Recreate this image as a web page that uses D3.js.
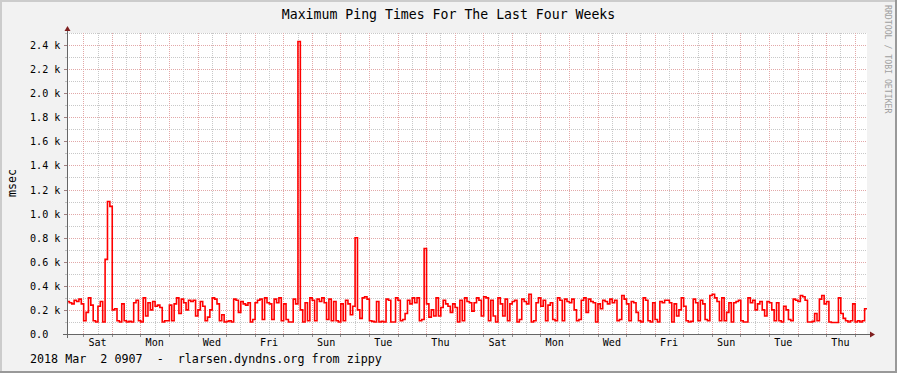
<!DOCTYPE html>
<html>
<head>
<meta charset="utf-8">
<title>Maximum Ping Times</title>
<script src="https://cdnjs.cloudflare.com/ajax/libs/d3/7.8.5/d3.min.js"></script>
<style>
    body { margin: 0; background: #f2f2f2; }
    svg { display: block; }
    text { font-family: "DejaVu Sans Mono", monospace; fill: #000; }
</style>
</head>
<body>
<svg width="897" height="373"></svg>
<script>
// max ping (msec), one value per 2 hours, 28 days
const pingMax = [
    270,260,250,280,270,290,250,110,180,300,240,110,100,230,270,100,620,1100,1060,200,
    210,110,100,250,110,100,105,100,260,280,110,100,300,150,260,200,270,230,240,220,
    100,110,
    110,240,110,250,300,170,290,260,200,280,270,280,150,200,270,230,110,140,200,300,
    290,250,110,160,100,105,110,100,290,280,180,270,250,240,260,100,120,260,280,290,
    120,300,
    260,250,120,290,260,300,110,250,120,100,100,290,250,2430,200,100,260,110,300,280,
    110,290,270,300,260,120,290,110,270,110,100,250,110,280,250,160,230,800,200,130,
    300,310,
    290,110,105,100,270,100,105,100,290,280,100,100,300,280,110,120,170,280,250,300,
    260,300,110,120,710,250,140,200,150,300,150,220,280,250,230,180,250,220,100,280,
    110,300,
    270,260,190,260,300,280,150,310,300,110,280,150,100,300,250,150,290,110,250,270,
    280,100,120,290,270,250,330,100,110,260,300,230,280,110,240,260,120,110,300,280,
    110,290,
    270,260,290,200,110,120,280,300,180,290,270,260,100,250,210,280,270,250,290,260,
    280,110,120,320,290,250,110,270,260,180,110,100,300,280,110,100,260,120,100,270,
    260,280,
    280,260,100,250,150,200,300,230,110,100,105,290,260,110,280,250,120,110,320,330,
    300,270,110,300,110,180,260,100,260,270,280,110,100,100,300,260,280,200,250,270,
    200,150,
    270,260,200,110,260,110,100,230,200,120,110,290,280,270,320,310,280,100,100,105,
    170,110,290,320,250,270,100,95,95,95,300,170,130,110,100,110,250,100,110,100,
    110,210
];
const yTickValues = [0, 200, 400, 600, 800, 1000, 1200, 1400, 1600, 1800, 2000, 2200, 2400];
const titleText = "Maximum Ping Times For The Last Four Weeks";
const yLabel = "msec";
const footerText = "2018 Mar  2 0907  -  rlarsen.dyndns.org from zippy";
const watermark = "RRDTOOL / TOBI OETIKER";

const HOUR = 3600 * 1000, DAY = 24 * HOUR;
const t0 = Date.UTC(2018, 1, 2, 10, 18);
const t1 = t0 + 28 * DAY;

const svg = d3.select("svg");
const W = 897, H = 373;
const pLeft = 67, pRight = 867, pTop = 33, pBottom = 334;

// frame
svg.append("rect").attr("width", W).attr("height", H).attr("fill", "#f2f2f2");
svg.append("rect").attr("x", 0).attr("y", 0).attr("width", W).attr("height", 2).attr("fill", "#cccccc");
svg.append("rect").attr("x", 0).attr("y", 0).attr("width", 2).attr("height", H).attr("fill", "#cccccc");
svg.append("rect").attr("x", 0).attr("y", H - 2).attr("width", W).attr("height", 2).attr("fill", "#999999");
svg.append("rect").attr("x", W - 2).attr("y", 0).attr("width", 2).attr("height", H).attr("fill", "#999999");

svg.append("rect").attr("x", pLeft).attr("y", pTop).attr("width", pRight - pLeft).attr("height", pBottom - pTop)
    .attr("fill", "#ffffff");

const x = d3.scaleUtc().domain([t0, t1]).range([pLeft, pRight]);
const y = d3.scaleLinear().domain([0, 2500]).range([pBottom, pTop]);

const grid = svg.append("g").attr("shape-rendering", "crispEdges");

// horizontal grid
const minorY = d3.range(100, 2501, 100).filter(v => v % 200 !== 0);
minorY.forEach(v => {
    const py = Math.round(y(v)) + 0.5;
    grid.append("line").attr("x1", pLeft).attr("x2", pRight).attr("y1", py).attr("y2", py)
        .attr("stroke", "#c8c8c8").attr("stroke-dasharray", "1,1");
    grid.append("line").attr("x1", pLeft - 2).attr("x2", pLeft).attr("y1", py).attr("y2", py)
        .attr("stroke", "#c0c0c0");
});
yTickValues.filter(v => v > 0).forEach(v => {
    const py = Math.round(y(v)) + 0.5;
    grid.append("line").attr("x1", pLeft).attr("x2", pRight).attr("y1", py).attr("y2", py)
        .attr("stroke", "#e2a8a8").attr("stroke-dasharray", "1,1");
    grid.append("line").attr("x1", pLeft - 3).attr("x2", pLeft).attr("y1", py).attr("y2", py)
        .attr("stroke", "#a08080");
});

// vertical grid
const days = d3.utcDay.range(d3.utcDay.ceil(new Date(t0)), new Date(t1));
const halfDays = d3.utcHour.every(12).range(new Date(t0), new Date(t1))
    .filter(d => d.getUTCHours() === 12 && x(d) > pLeft + 3);
halfDays.forEach(d => {
    const px = Math.round(x(d)) + 0.5;
    grid.append("line").attr("x1", px).attr("x2", px).attr("y1", pTop).attr("y2", pBottom)
        .attr("stroke", "#c8c8c8").attr("stroke-dasharray", "1,1");
});
days.forEach(d => {
    const px = Math.round(x(d)) + 0.5;
    grid.append("line").attr("x1", px).attr("x2", px).attr("y1", pTop).attr("y2", pBottom)
        .attr("stroke", "#e2a8a8").attr("stroke-dasharray", "1,1");
    grid.append("line").attr("x1", px).attr("x2", px).attr("y1", pBottom).attr("y2", pBottom + 3)
        .attr("stroke", "#909090");
});

// data line
const pts = pingMax.map((v, i) => [t0 + i * 2 * HOUR, v]);
pts.push([t1, pingMax[pingMax.length - 1]]);
const line = d3.line()
    .x(d => x(d[0]))
    .y(d => y(d[1]))
    .curve(d3.curveStepAfter);
svg.append("path").datum(pts).attr("d", line)
    .attr("fill", "none").attr("stroke", "#ff0000").attr("stroke-width", 1.6);

// axes
const ax = svg.append("g").attr("shape-rendering", "crispEdges");
ax.append("line").attr("x1", pLeft - 4).attr("x2", pRight + 3).attr("y1", pBottom + 0.5).attr("y2", pBottom + 0.5)
    .attr("stroke", "#666666");
ax.append("line").attr("x1", pLeft + 0.5).attr("x2", pLeft + 0.5).attr("y1", pBottom + 4).attr("y2", pTop - 2)
    .attr("stroke", "#666666");
svg.append("path").attr("d", `M${pLeft - 2.5},${pTop - 2}L${pLeft + 3.5},${pTop - 2}L${pLeft + 0.5},${pTop - 7}Z`)
    .attr("fill", "#7f1f1f");
svg.append("path").attr("d", `M${pRight + 3},${pBottom - 2.5}L${pRight + 3},${pBottom + 3.5}L${pRight + 8},${pBottom + 0.5}Z`)
    .attr("fill", "#7f1f1f");

// y labels
svg.append("g").selectAll("text").data(yTickValues).join("text")
    .attr("x", 30).attr("y", d => y(d) + 4)
    .attr("font-size", "10.1px")
    .text(d => d === 0 ? "0.0" : (d / 1000).toFixed(1) + " k");

// x labels
const labelDays = days.filter((d, i) => i % 2 === 0).map(d => new Date(+d + 12 * HOUR));
svg.append("g").selectAll("text").data(labelDays).join("text")
    .attr("x", d => x(d)).attr("y", 346)
    .attr("text-anchor", "middle").attr("font-size", "10.1px")
    .text(d => d3.utcFormat("%a")(d));

// title, unit, footer, watermark
svg.append("text").attr("x", W / 2).attr("y", 19).attr("text-anchor", "middle")
    .attr("font-size", "13.2px").text(titleText);
svg.append("text").attr("transform", "translate(16,183) rotate(-90)").attr("text-anchor", "middle")
    .attr("font-size", "11.6px").text(yLabel);
svg.append("text").attr("x", 30).attr("y", 362.5).attr("font-size", "11.7px")
    .style("white-space", "pre").text(footerText);
svg.append("text").attr("transform", "translate(885,5) rotate(90)")
    .attr("font-size", "8.2px").style("fill", "#a0a0a0").text(watermark);
</script>
</body>
</html>
